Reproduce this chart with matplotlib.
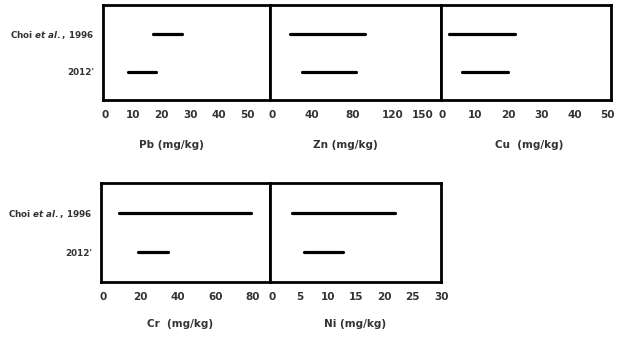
import matplotlib
matplotlib.use("Agg")
import matplotlib.pyplot as plt

plt.rcParams['font.family'] = ['DejaVu Sans']
plt.rcParams['mathtext.fontset'] = 'custom'
plt.rcParams['mathtext.it'] = 'DejaVu Sans:italic:bold'
plt.rcParams['mathtext.rm'] = 'DejaVu Sans:bold'

# ---------------------------------------------------------------------------
# Datos (rangos min-max, mg/kg)
# ---------------------------------------------------------------------------
row_labels = [r"Choi $\mathit{et\ al.}$, 1996", "2012'"]
row_y = [0.7, 0.3]

metals = ["Pb", "Zn", "Cu", "Cr", "Ni"]
xlabels = ["Pb (mg/kg)", "Zn (mg/kg)", "Cu  (mg/kg)", "Cr  (mg/kg)", "Ni (mg/kg)"]
ranges_1996 = [(17, 27), (18, 93), (2, 22), (8.5, 79), (3.6, 21.8)]
ranges_2012 = [(8, 18), (30, 84), (6, 20), (18.6, 34.5), (5.7, 12.7)]
ticks = [[0, 10, 20, 30, 40, 50],
         [0, 40, 80, 120, 150],
         [0, 10, 20, 30, 40, 50],
         [0, 20, 40, 60, 80],
         [0, 5, 10, 15, 20, 25, 30]]
xlims = [(-0.7, 58), (-2, 168), (-0.3, 51), (-1, 89), (-0.35, 30)]

# posiciones de ejes [left, bottom, width, height] en fraccion de figura
positions = [[0.165, 0.706, 0.268, 0.279],
             [0.433, 0.706, 0.275, 0.279],
             [0.708, 0.706, 0.273, 0.279],
             [0.162, 0.171, 0.271, 0.291],
             [0.433, 0.171, 0.275, 0.291]]
label_x = [0.41, 0.44, 0.52, 0.47, 0.50]
label_y = [-0.47, -0.47, -0.47, -0.43, -0.43]

fig = plt.figure(figsize=(6.23, 3.4), dpi=100)
txt = "#333333"

for i, m in enumerate(metals):
    ax = fig.add_axes(positions[i])
    for (lo, hi), y in zip([ranges_1996[i], ranges_2012[i]], row_y):
        ax.plot([lo, hi], [y, y], color="black", lw=2.3, solid_capstyle="round")
    ax.set_xlim(*xlims[i])
    ax.set_ylim(0, 1)
    ax.set_xticks(ticks[i])
    ax.set_xticklabels([str(t) for t in ticks[i]], fontsize=7.5, fontweight="bold", color=txt)
    ax.tick_params(axis="x", length=0, pad=7)
    if i in (0, 3):
        ax.set_yticks(row_y)
        ax.set_yticklabels(row_labels, fontsize=6.3, fontweight="bold", color=txt)
        ax.tick_params(axis="y", length=0, pad=6)
    else:
        ax.set_yticks([])
    for s in ax.spines.values():
        s.set_linewidth(2.0)
        s.set_color("black")
    ax.text(label_x[i], label_y[i], xlabels[i], transform=ax.transAxes,
            ha="center", va="center", fontsize=7.5, fontweight="bold", color=txt)

fig.savefig("out.png", dpi=100)
